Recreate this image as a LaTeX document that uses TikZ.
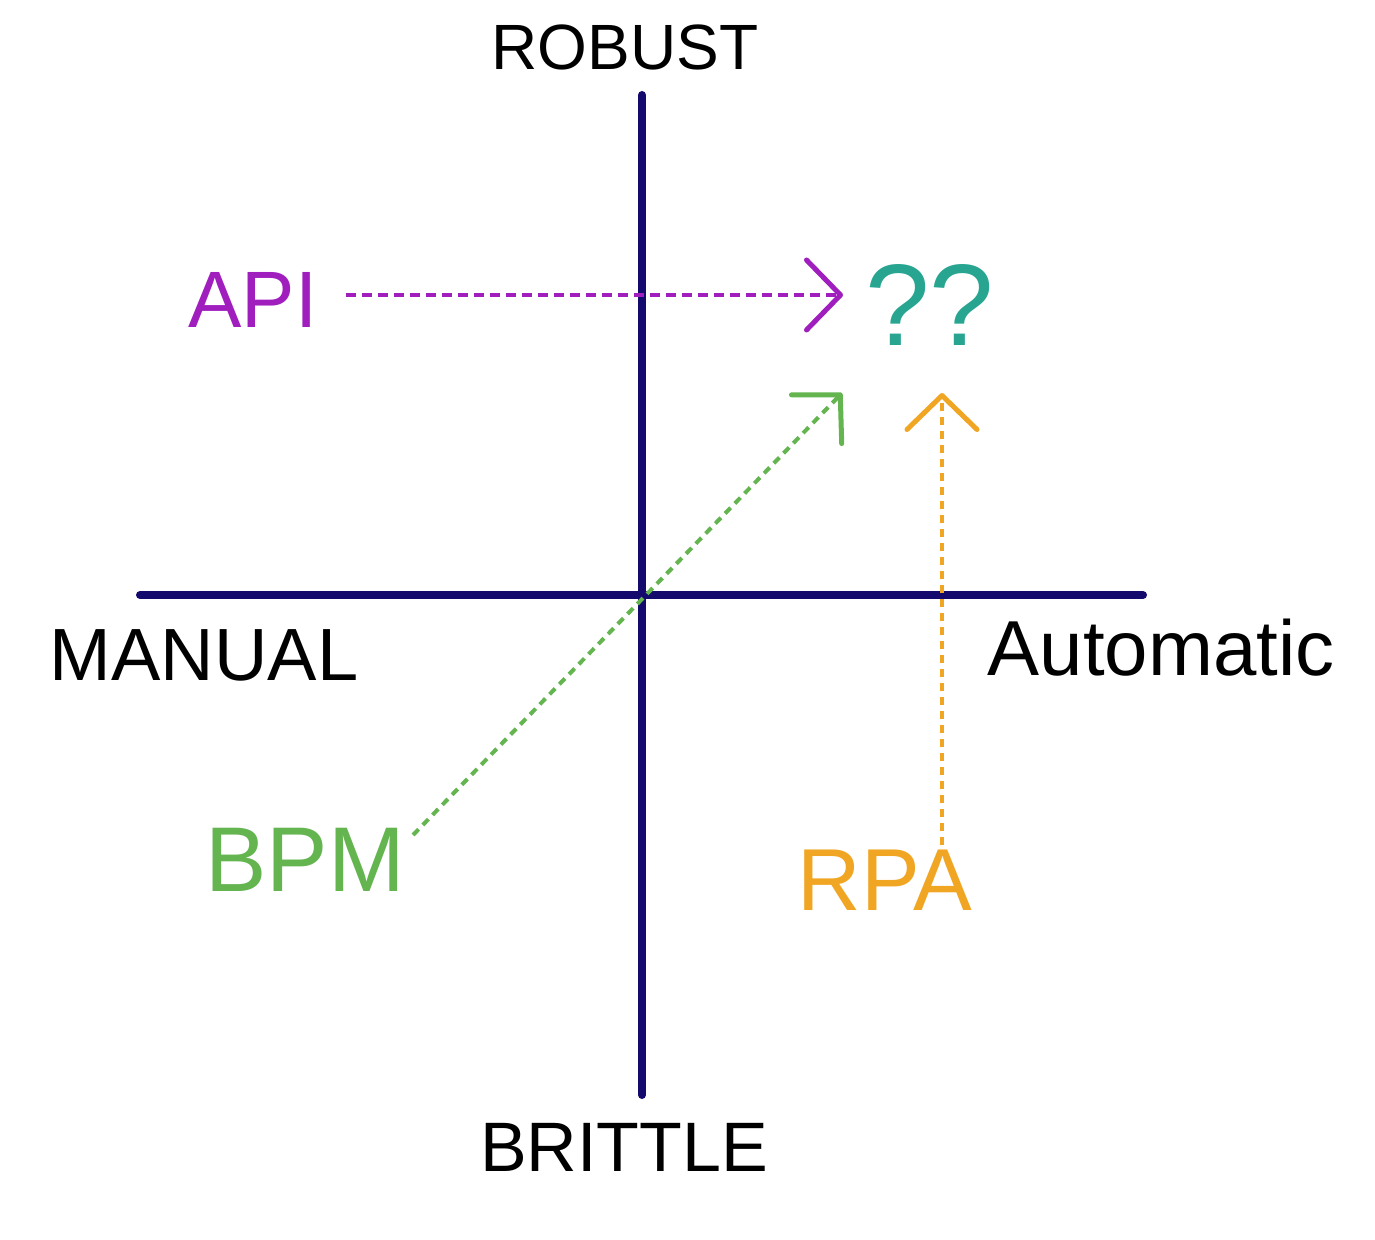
\documentclass[tikz,border=0pt]{standalone}
\usepackage{fontspec}
\setmainfont{Liberation Sans}
\usetikzlibrary{arrows.meta,positioning}
\definecolor{axisblue}{RGB}{20,10,110}
\definecolor{apipurple}{RGB}{160,30,190}
\definecolor{askteal}{RGB}{40,165,145}
\definecolor{bpmgreen}{RGB}{100,180,80}
\definecolor{rpaorange}{RGB}{240,165,35}
\tikzset{axis/.style={draw=axisblue, line width=4pt, line cap=round},
lbl/.style={inner sep=2pt, font=\fontsize{34}{34}\selectfont},
big/.style={lbl, font=\fontsize{44}{44}\selectfont},
link/.style={line width=2pt, dash pattern=on 5pt off 3pt,
  -{Straight Barb[length=17pt,width=35pt,line width=2.5pt,round]}},
dotlink/.style={link, dash pattern=on 4pt off 3pt}}

\begin{document}
\begin{tikzpicture}[x=0.5pt,y=-0.5pt]
  \useasboundingbox (0,0) rectangle (1375,1240);
  \coordinate (top) at (642,95);
  \coordinate (bottom) at (642,1095);
  \coordinate (left) at (140,595);
  \coordinate (right) at (1143,595);
  \draw [axis] (top) -- (bottom);
  \draw [axis] (left) -- (right);

  \node (robust) [lbl, font=\fontsize{32}{32}\selectfont] at (625,47) {ROBUST};
  \node (brittle) [lbl, font=\fontsize{35}{35}\selectfont] at (624,1147) {BRITTLE};
  \node (manual) [lbl, font=\fontsize{37}{37}\selectfont] at (204,655) {MANUAL};
  \node (auto) [lbl, font=\fontsize{39}{39}\selectfont] at (1161,648) {Automatic};

  \node (api) [big, text=apipurple, font=\fontsize{40}{40}\selectfont] at (253,300) {API};
  \node (bpm) [big, text=bpmgreen, font=\fontsize{46}{46}\selectfont] at (305,860) {BPM};
  \node (rpa) [big, text=rpaorange] at (885,880) {RPA};
  \node (ask) [big, text=askteal, font=\fontsize{58}{58}\selectfont] at (930,305) {??};

  \coordinate (apitip) at (843,295);
  \coordinate (bpmtip) at (842,393);
  \coordinate (rpatip) at (942,393);
  \draw [link, apipurple, shorten <=12pt] (api.east |- apitip) -- (apitip);
  \draw [dotlink, bpmgreen] (bpm.north east) ++(4,11) -- (bpmtip);
  \draw [dotlink, rpaorange] (rpatip |- rpa.north) -- (rpatip);
\end{tikzpicture}
\end{document}
